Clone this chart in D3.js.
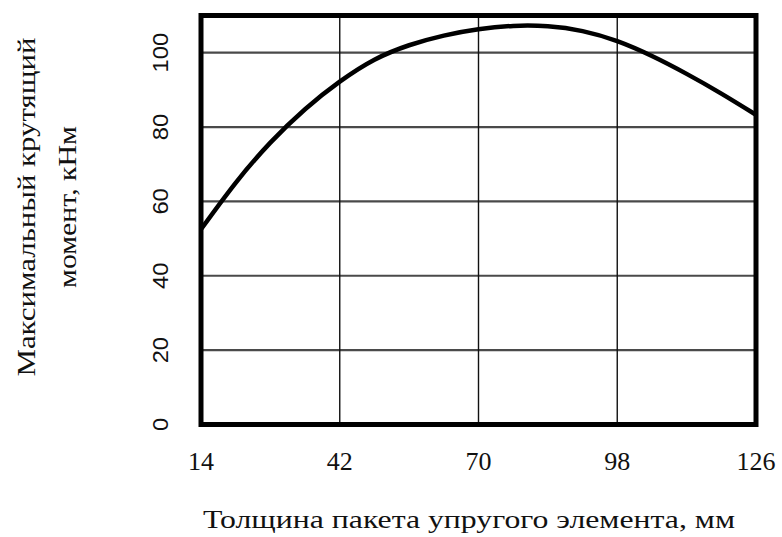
<!DOCTYPE html>
<html><head><meta charset="utf-8">
<script src="https://cdn.jsdelivr.net/npm/d3@7"></script>
<style>body{margin:0;background:#fff}svg{display:block}</style>
</head><body><svg id="c" width="782" height="537"></svg>
<script>
const xTicks = [14, 42, 70, 98, 126];
const yTicks = [0, 20, 40, 60, 80, 100];
const thickness = [14, 21, 28, 35, 42, 49, 56, 63, 70, 77, 84, 91, 98, 105, 112, 119, 126];
const torque = [52.5, 65, 75.8, 84.8, 92.2, 98.1, 102.0, 104.6, 106.3, 107.2, 107.1, 105.8, 103.1, 99.1, 94.3, 89.0, 83.3];
const xLabel = "Толщина пакета упругого  элемента, мм";
const yLabelLines = ["Максимальный крутящий", "момент, кНм"];

const svg = d3.select("#c");
const L = 201, R = 756, T = 15.5, B = 424.5;
const x = d3.scaleLinear().domain([14, 126]).range([L, R]);
const y = d3.scaleLinear().domain([0, 110]).range([B, T]);
const serif = "'Liberation Serif', 'Times New Roman', serif";
const sans = "'Liberation Sans', Arial, sans-serif";

// horizontal grid
svg.append("g").selectAll("line").data(yTicks.filter(d => d > 0)).join("line")
  .attr("x1", L).attr("x2", R).attr("y1", d => y(d)).attr("y2", d => y(d))
  .attr("stroke", "#4a4a4a").attr("stroke-width", 2.2);
// vertical grid
svg.append("g").selectAll("line").data(xTicks.slice(1, -1)).join("line")
  .attr("x1", d => x(d)).attr("x2", d => x(d)).attr("y1", T).attr("y2", B)
  .attr("stroke", "#111").attr("stroke-width", 1.4);

// curve
const line = d3.line().x((d, i) => x(thickness[i])).y(d => y(d)).curve(d3.curveNatural);
svg.append("path").attr("d", line(torque)).attr("fill", "none")
  .attr("stroke", "#000").attr("stroke-width", 4.5).attr("stroke-linejoin", "round");

// frame
svg.append("rect").attr("x", L).attr("y", T).attr("width", R - L).attr("height", B - T)
  .attr("fill", "none").attr("stroke", "#000").attr("stroke-width", 5);

// x tick labels
svg.append("g").selectAll("text").data(xTicks).join("text")
  .attr("x", d => x(d)).attr("y", 470).attr("text-anchor", "middle")
  .attr("font-family", serif).attr("font-size", 26).attr("fill", "#111")
  .text(d => d);

// y tick labels (rotated, sans)
svg.append("g").selectAll("text").data(yTicks).join("text")
  .attr("transform", d => `translate(168,${y(d)}) rotate(-90)`)
  .attr("text-anchor", "middle")
  .attr("font-family", sans).attr("font-size", 22).attr("fill", "#111")
  .attr("textLength", d => String(d).length * 13.2).attr("lengthAdjust", "spacingAndGlyphs")
  .text(d => d);

// x axis label
svg.append("text").attr("x", 469).attr("y", 528).attr("text-anchor", "middle")
  .attr("font-family", serif).attr("font-size", 25).attr("fill", "#111")
  .attr("textLength", 532).attr("lengthAdjust", "spacingAndGlyphs")
  .text(xLabel);

// y axis label
const yl = [{t: yLabelLines[0], bx: 35, len: 339}, {t: yLabelLines[1], bx: 76, len: 162}];
svg.append("g").selectAll("text").data(yl).join("text")
  .attr("transform", d => `translate(${d.bx},207) rotate(-90)`)
  .attr("text-anchor", "middle")
  .attr("font-family", serif).attr("font-size", 26).attr("fill", "#111")
  .attr("textLength", d => d.len).attr("lengthAdjust", "spacingAndGlyphs")
  .text(d => d.t);
</script></body></html>
